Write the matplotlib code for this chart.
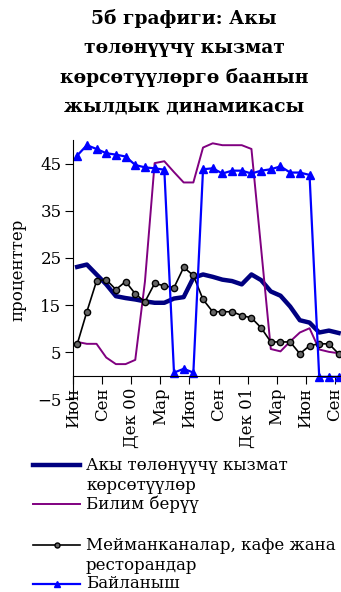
import matplotlib
matplotlib.use('Agg')
import matplotlib.pyplot as plt
from matplotlib.lines import Line2D

plt.rcParams['font.family'] = ['DejaVu Serif']

# months Jun 2000 .. Sep 2002
months = list(range(28))
tick_labels = ['Июн', 'Сен', 'Дек 00', 'Мар', 'Июн', 'Сен', 'Дек 01', 'Мар', 'Июн', 'Сен']

paid_services = [23.1, 23.6, 21.5, 19.4, 16.9, 16.5, 16.2, 15.8, 15.5, 15.5,
                 16.4, 16.7, 20.8, 21.5, 21.0, 20.4, 20.1, 19.4, 21.5, 20.3,
                 17.9, 17.0, 14.7, 11.8, 11.3, 9.2, 9.6, 9.1]
education = [7.2, 6.8, 6.8, 3.9, 2.5, 2.5, 3.4, 20.0, 45.1, 45.5,
             43.2, 41.0, 41.0, 48.4, 49.3, 48.9, 48.9, 48.9, 48.1, 27.0,
             5.7, 5.2, 7.3, 9.2, 10.1, 5.6, 5.1, 4.8]
hotels = [6.7, 13.6, 20.1, 20.4, 18.3, 20.0, 17.4, 15.7, 19.6, 19.1,
          18.7, 23.0, 21.3, 16.2, 13.6, 13.6, 13.6, 12.8, 12.3, 10.2,
          7.2, 7.2, 7.2, 4.7, 6.4, 6.8, 6.8, 4.7]
communication = [46.7, 48.9, 48.1, 47.2, 46.9, 46.5, 44.7, 44.2, 44.0, 43.7,
                 0.7, 1.5, 0.7, 43.8, 44.0, 42.9, 43.5, 43.5, 42.9, 43.5,
                 43.8, 44.4, 43.1, 43.1, 42.6, -0.2, -0.2, -0.2]

labels = ['Акы төлөнүүчү кызмат\nкөрсөтүүлөр', 'Билим берүү',
          'Мейманканалар, кафе жана\nресторандар', 'Байланыш']

W, H = 341, 592
fig = plt.figure(figsize=(W / 100, H / 100), dpi=100)
ax = fig.add_axes([73.3 / W, 1 - 399.5 / H, 1 - 73.3 / W, (399.5 - 140) / H])

ax.spines['top'].set_visible(False)
ax.spines['right'].set_visible(False)
ax.spines['bottom'].set_position(('data', 0))

styles = [
    dict(color='#000080', lw=3.2),
    dict(color='#800080', lw=1.4),
    dict(color='black', lw=1.2, marker='o', ms=4.5, mfc='#666666', mec='black', mew=1.0),
    dict(color='#0000ff', lw=1.6, marker='^', ms=5.5),
]
series = [paid_services, education, hotels, communication]
for vals, st in zip(series, styles):
    ax.plot(months, vals, clip_on=False, **st)

ax.set_xlim(-0.4, 27.25)
ax.set_ylim(-5, 50)
ax.set_yticks([-5, 5, 15, 25, 35, 45])
ax.set_yticklabels(['−5', '5', '15', '25', '35', '45'])
ax.set_xticks([3 * k - 0.4 for k in range(10)])
ax.set_xticklabels(tick_labels)
ax.tick_params(axis='both', direction='out', length=5.5, labelsize=12, width=0.8, pad=3)
ax.tick_params(axis='x', labelrotation=90)
ax.set_ylabel('проценттер', fontsize=12, labelpad=8)

title = '5б графиги: Акы\nтөлөнүүчү кызмат\nкөрсөтүүлөргө баанын\nжылдык динамикасы'
fig.text(184 / W, 1 - 62.5 / H, title, ha='center', va='center', fontsize=13.5,
         fontweight='bold', linespacing=1.76)

# legend drawn by hand to keep the odd spacing of the original
rows = [465, 504, 545, 584]
for lab, st, y in zip(labels, styles, rows):
    yf = 1 - y / H
    kw = dict(st)
    if 'marker' in kw:
        kw['markevery'] = [1]
        kw['ms'] = kw['ms'] * 0.8
    fig.add_artist(Line2D([33 / W, 57 / W, 80 / W], [yf, yf, yf], **kw))
    n = lab.count('\n')
    fig.text(86 / W, 1 - (y + 10.5 * n) / H, lab, ha='left', va='center', fontsize=12,
             linespacing=1.25)

fig.savefig('out.png', dpi=100)
